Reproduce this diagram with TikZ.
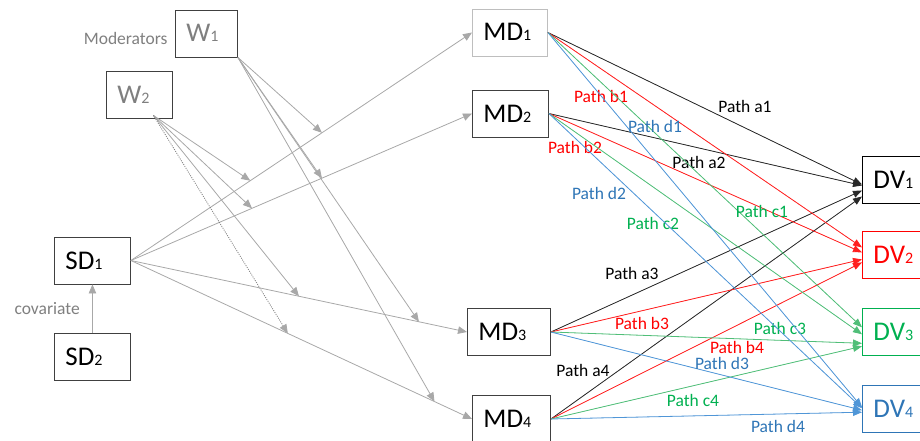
\documentclass[tikz,border=0pt]{standalone}
\usepackage{fontspec}
\setmainfont{Carlito}
\usetikzlibrary{arrows.meta, positioning}

\definecolor{modgray}{RGB}{127,127,127}
\definecolor{arrgray}{RGB}{168,168,168}
\definecolor{boxgray}{RGB}{64,64,64}
\definecolor{palegray}{RGB}{190,190,190}
\definecolor{texta}{RGB}{0,0,0}
\definecolor{textb}{RGB}{255,0,0}
\definecolor{textc}{RGB}{0,176,80}
\definecolor{textd}{RGB}{46,117,182}
\definecolor{linea}{RGB}{40,40,40}
\definecolor{lineb}{RGB}{255,30,30}
\definecolor{linec}{RGB}{80,190,120}
\definecolor{lined}{RGB}{80,150,215}

% small digit on the baseline
\newcommand{\ix}[1]{{\fontsize{16}{16}\selectfont #1}}

\begin{document}
\begin{tikzpicture}[
  x=1pt, y=-1pt,
  node distance=28pt,
  varbox/.style={draw=boxgray, line width=0.9pt, inner xsep=11pt, text width=#1,
    align=left, minimum height=47pt, text height=17pt, text depth=0pt,
    font=\fontsize{27}{30}\selectfont},
  lbl/.style={font=\fontsize{17.5}{20}\selectfont},
  gline/.style={draw=arrgray, line width=0.8pt,
    -{Triangle[length=9pt,width=7.5pt,color=arrgray]}},
  cline/.style={line width=0.8pt, -{Triangle[length=9pt,width=7pt]}}]

  \useasboundingbox (0,0) rectangle (920,441);
  \clip (0,0) rectangle (920,441);

  % moderators and predictors
  \node[varbox=40pt, text=modgray, anchor=west] (W1) at (175,33.5) {W\ix{1}};
  \node[varbox=44pt, text=modgray, anchor=west] (W2) at (106,94.5) {W\ix{2}};
  \node[lbl, text=modgray, left=4pt of W1, yshift=-5pt] (modlbl) {Moderators};
  \node[varbox=54pt, anchor=west] (SD1) at (54,260.5) {SD\ix{1}};
  \node[varbox=54pt, below=49pt of SD1] (SD2) {SD\ix{2}};

  % mediators
  \node[varbox=53pt, draw=palegray, anchor=west] (MD1) at (472,32.5) {MD\ix{1}};
  \node[varbox=54pt, anchor=west] (MD2) at (472,113.5) {MD\ix{2}};
  \node[varbox=61pt, anchor=west] (MD3) at (467,332) {MD\ix{3}};
  \node[varbox=56pt, anchor=west] (MD4) at (472,419) {MD\ix{4}};

  % outcomes
  \node[varbox=55pt, draw=black, anchor=west] (DV1) at (862,179.5) {DV\ix{1}};
  \node[varbox=55pt, draw=textb, text=textb, below=28pt of DV1] (DV2) {DV\ix{2}};
  \node[varbox=55pt, draw=textc, text=textc, below=29pt of DV2] (DV3) {DV\ix{3}};
  \node[varbox=55pt, draw=textd, text=textd, below=29pt of DV3] (DV4) {DV\ix{4}};

  \draw[gline] (SD2) -- (SD1) node[midway, left=9pt, lbl, text=modgray] (covlbl) {covariate};

  % SD1 -> MDs, with the points the moderators aim at
  \foreach \i/\pa/\pb in {1/0.56/0.35, 2/0.56/0.355, 3/0.857/0.5, 4/0.89/0.46}
    \draw[gline] (SD1.east) -- coordinate[pos=\pa] (ma\i) coordinate[pos=\pb] (mb\i) (MD\i.west);

  \foreach \i in {1,...,4}
    \draw[gline] (W1.south east) -- (ma\i);

  \coordinate (w2o) at ([xshift=14pt, yshift=3pt]W2.south);
  \foreach \i in {1,2,3}
    \draw[gline] (w2o) -- (mb\i);
  \draw[gline, draw=modgray, dash pattern=on 1pt off 1.2pt] (w2o) -- (mb4);

  % paths MD -> DV
  \foreach \p/\m/\d/\dy/\lx/\ly in {
      a/1/1/-5/745/106, a/2/1/-6/699/162, a/3/1/-11/632/273, a/4/1/-17/583/370,
      b/1/2/8/601/96,   b/2/2/3/575/147,  b/3/2/-4/642/323,  b/4/2/-7/737/347,
      c/1/3/5/762/211,  c/2/3/-2/653/223, c/3/3/-11/780/328, c/4/3/-14/693/400,
      d/1/4/2/655/126,  d/2/4/1/599/193,  d/3/4/-1/722/363,  d/4/4/-3/778/426}
  {
    \draw[cline, draw=line\p, fill=line\p] (MD\m.east) -- ([yshift=\dy pt]DV\d.west);
    \node[lbl, text=text\p] (path\p\m) at (\lx,\ly) {Path \p\m};
  }
\end{tikzpicture}
\end{document}
